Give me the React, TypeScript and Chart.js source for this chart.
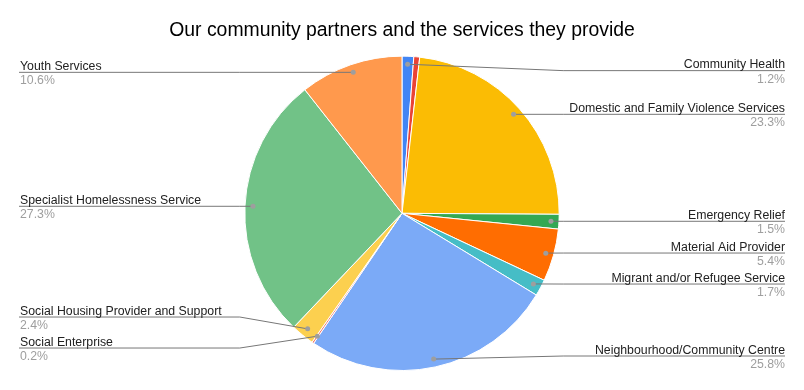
import React, { useEffect, useRef } from "react";
import { Chart, registerables } from "chart.js";

Chart.register(...registerables);

const TITLE = "Our community partners and the services they provide";
const categories = [
  "Community Health",
  "Other",
  "Domestic and Family Violence Services",
  "Emergency Relief",
  "Material Aid Provider",
  "Migrant and/or Refugee Service",
  "Neighbourhood/Community Centre",
  "Social Enterprise",
  "Social Housing Provider and Support",
  "Specialist Homelessness Service",
  "Youth Services",
];
const shares = [1.2, 0.6, 23.3, 1.5, 5.4, 1.7, 25.8, 0.2, 2.4, 27.3, 10.6];
const colors = [
  "#4285F4",
  "#EA4335",
  "#FBBC04",
  "#34A853",
  "#FF6D01",
  "#46BDC6",
  "#7BAAF7",
  "#F07B72",
  "#FCD04F",
  "#71C287",
  "#FF994D",
];
const unlabeled = ["Other"];

const FONT = "'Liberation Sans', Arial, sans-serif";

type Item = { i: number; dx: number; dy: number; desired: number; y: number };

function layoutSide(items: Item[], minY: number, maxY: number, gap: number) {
  items.sort((a, b) => a.desired - b.desired);
  const clamp = (v: number, lo: number, hi: number) => Math.max(lo, Math.min(hi, v));
  let clusters = items.map((it) => ({ items: [it], y: clamp(it.desired, minY, maxY) }));
  let changed = true;
  while (changed) {
    changed = false;
    for (let k = 0; k < clusters.length - 1; k++) {
      const a = clusters[k];
      const b = clusters[k + 1];
      if (a.y + a.items.length * gap > b.y) {
        const merged = a.items.concat(b.items);
        const mean = merged.reduce((s, it) => s + it.desired, 0) / merged.length;
        const n = merged.length;
        let y = mean - ((n - 1) * gap) / 2;
        y = clamp(y, minY, maxY - (n - 1) * gap);
        clusters.splice(k, 2, { items: merged, y });
        changed = true;
        break;
      }
    }
  }
  clusters.forEach((c) => c.items.forEach((it, j) => (it.y = c.y + j * gap)));
}

const outsideLabels = {
  id: "outsideLabels",
  afterDraw(chart: any) {
    const ctx = chart.ctx;
    const meta = chart.getDatasetMeta(0);
    const ds = chart.data.datasets[0].data as number[];
    const total = ds.reduce((s, v) => s + v, 0);
    const left: Item[] = [];
    const right: Item[] = [];
    let cx = 0,
      cy = 0,
      R = 0;
    meta.data.forEach((arc: any, i: number) => {
      const p = arc.getProps(["x", "y", "startAngle", "endAngle", "outerRadius"], true);
      cx = p.x;
      cy = p.y;
      R = p.outerRadius;
      if (unlabeled.includes(categories[i])) return;
      const mid = (p.startAngle + p.endAngle) / 2;
      const dr = p.outerRadius - 8;
      const dx = p.x + Math.cos(mid) * dr;
      const dy = p.y + Math.sin(mid) * dr;
      const it = { i, dx, dy, desired: dy, y: dy };
      if (dx < p.x) left.push(it);
      else right.push(it);
    });
    const area = chart.chartArea;
    const minY = area.top + 15;
    const maxY = area.bottom - 15;
    layoutSide(left, minY, maxY, 31);
    layoutSide(right, minY, maxY, 31);

    const leftEdge = 19;
    const rightEdge = 785;
    ctx.save();
    const drawItem = (it: Item, side: "left" | "right") => {
      const elbowX = side === "left" ? cx - R - 5 : cx + R + 4;
      const endX = side === "left" ? leftEdge : rightEdge;
      ctx.strokeStyle = "#777777";
      ctx.lineWidth = 1;
      ctx.beginPath();
      ctx.moveTo(it.dx, it.dy);
      ctx.lineTo(elbowX, it.y);
      ctx.lineTo(endX, it.y);
      ctx.stroke();
      ctx.fillStyle = "#9e9e9e";
      ctx.beginPath();
      ctx.arc(it.dx, it.dy, 2.5, 0, Math.PI * 2);
      ctx.fill();
      ctx.textAlign = side === "left" ? "left" : "right";
      ctx.textBaseline = "alphabetic";
      const tx = side === "left" ? 20 : 785;
      ctx.font = `12.3px ${FONT}`;
      ctx.fillStyle = "#222222";
      ctx.fillText(categories[it.i], tx, it.y - 2.5);
      ctx.fillStyle = "#9e9e9e";
      const pct = ((ds[it.i] / total) * 100).toFixed(1) + "%";
      ctx.fillText(pct, tx, it.y + 12);
    };
    left.forEach((it) => drawItem(it, "left"));
    right.forEach((it) => drawItem(it, "right"));
    ctx.restore();
  },
};

export default function App() {
  const ref = useRef<HTMLCanvasElement | null>(null);
  useEffect(() => {
    if (!ref.current) return;
    const chart = new Chart(ref.current, {
      type: "pie",
      data: {
        labels: categories,
        datasets: [
          {
            data: shares,
            backgroundColor: colors,
            borderColor: "#ffffff",
            borderWidth: 1,
            hoverOffset: 0,
          },
        ],
      },
      options: {
        responsive: false,
        animation: false,
        devicePixelRatio: 1,
        layout: { padding: { top: 0, bottom: 19, left: 0, right: 0 } },
        plugins: {
          legend: { display: false },
          tooltip: { enabled: false },
          title: {
            display: true,
            text: TITLE,
            color: "#000000",
            font: { family: FONT, size: 19.4, weight: "normal", lineHeight: 1.1 },
            padding: { top: 20, bottom: 14.3 },
          },
        },
      },
      plugins: [outsideLabels],
    });
    return () => chart.destroy();
  }, []);
  return (
    <div style={{ position: "fixed", left: 0, top: 0, width: 804, height: 390, background: "#ffffff" }}>
      <canvas ref={ref} width={804} height={390} />
    </div>
  );
}
